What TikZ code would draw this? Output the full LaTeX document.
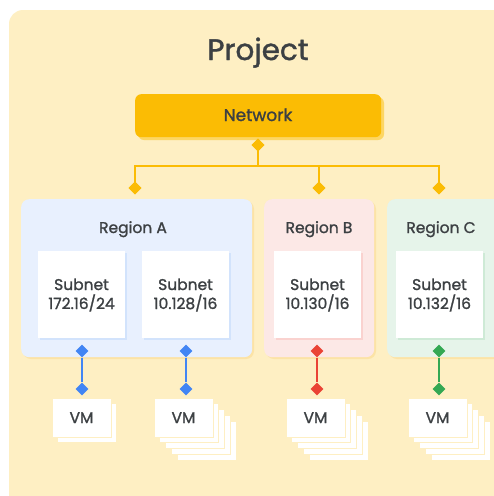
\documentclass[tikz,border=0pt]{standalone}
\usepackage{fontspec}
\setmainfont{Poppins}[FakeBold=1.3]
\usetikzlibrary{shapes.geometric}
\definecolor{bg}{HTML}{FEEFC3}
\definecolor{bgshadow}{HTML}{FCE3A6}
\definecolor{netfill}{HTML}{FBBC04}
\definecolor{netshadow}{HTML}{FDD663}
\definecolor{txt}{HTML}{3C4043}
\definecolor{gblue}{HTML}{4285F4}
\definecolor{gred}{HTML}{EA4335}
\definecolor{ggreen}{HTML}{34A853}
\definecolor{regA}{HTML}{E8F0FE}
\definecolor{regB}{HTML}{FCE8E6}
\definecolor{regC}{HTML}{E6F4EA}
\definecolor{shA}{HTML}{D2E3FC}
\definecolor{shB}{HTML}{FAD2CF}
\definecolor{shC}{HTML}{CEEAD6}
\begin{document}
\begin{tikzpicture}[x=1pt,y=-1pt,
  lbl/.style={text=txt, inner sep=0pt, anchor=base},
  netbox/.style={fill=netfill, rounded corners=6pt, anchor=north west, minimum width=246pt, minimum height=43pt, inner sep=0pt},
  regionbox/.style={rounded corners=8pt, anchor=north west, minimum height=158pt, inner sep=0pt},
  subnetbox/.style={fill=white, anchor=north west, minimum width=87pt, minimum height=87pt, inner sep=0pt},
  vmbox/.style={fill=white, draw=bg, line width=1pt, anchor=north west, minimum width=59pt, minimum height=39pt, inner sep=0pt},
  vmcopy/.style={fill=white, draw=bg, line width=1pt},
  dia/.style={diamond, fill=#1, minimum width=13pt, minimum height=13pt, inner sep=0pt},
  link/.style={draw=#1, line width=2.2pt},
  big/.style={font=\fontsize{29.5}{34}\selectfont},
  mid/.style={font=\fontsize{17}{19}\selectfont},
  small/.style={font=\fontsize{15.5}{19}\selectfont}
]
\useasboundingbox (0,0) rectangle (494,496);
% project background
\fill[bg, rounded corners=14pt] (9,10) rectangle (520,520);
\node[lbl, big] (project) at (258,60) {Project};

% network
\fill[netshadow, rounded corners=6pt] (138,97) rectangle (384,140);
\node[netbox] (network) at (135,94) {};
\node[lbl, mid] (netlabel) at (258,121) {Network};

% regions
\fill[bgshadow, rounded corners=8pt] (23,201) rectangle (254,359);
\fill[bgshadow, rounded corners=8pt] (266,201) rectangle (376,359);
\fill[bgshadow, rounded corners=8pt] (389,201) rectangle (520,359);
\node[regionbox, fill=regA, minimum width=231pt] (regionA) at (21,199) {};
\node[regionbox, fill=regB, minimum width=110pt] (regionB) at (264,199) {};
\node[regionbox, fill=regC, minimum width=130pt] (regionC) at (387,199) {};
\node[lbl, small] (labA) at (133,233) {Region A};
\node[lbl, small] (labB) at (319,233) {Region B};
\node[lbl, small] (labC) at (441,233) {Region C};

% subnets
\fill[shA] (40,253) rectangle (127,340);
\fill[shA] (144,253) rectangle (231,340);
\fill[shB] (276,253) rectangle (363,340);
\fill[shC] (398,253) rectangle (485,340);
\node[subnetbox] (sA1) at (38,251) {};
\node[subnetbox] (sA2) at (142,251) {};
\node[subnetbox] (sB) at (274,251) {};
\node[subnetbox] (sC) at (396,251) {};
\foreach \n/\x/\ip in {A1/81.5/172.16\slash 24, A2/185.5/10.128\slash 16, B/317.5/10.130\slash 16, C/439.5/10.132\slash 16}{
  \node[lbl, small] (st\n) at (\x,290) {Subnet};
  \node[lbl, small] (si\n) at (\x,309) {\ip};
}

% network connectors
\node[dia=netfill] (dn) at (258,145) {};
\coordinate (j) at (258,166);
\coordinate (jl) at (135,166);
\coordinate (jm) at (319,166);
\coordinate (jr) at (439,166);
\node[dia=netfill] (dA) at (135,188) {};
\node[dia=netfill] (dB) at (319,188) {};
\node[dia=netfill] (dC) at (439,188) {};
\draw[link=netfill, line width=2pt] (dn.center) -- (j);
\draw[link=netfill, line width=2pt] (dA.center) -- (jl) -- (jr) -- (dC.center);
\draw[link=netfill, line width=2pt] (jm) -- (dB.center);
\node[dia=netfill] at (dn) {};
\node[dia=netfill] at (dA) {};
\node[dia=netfill] at (dB) {};
\node[dia=netfill] at (dC) {};

% VM stacks
\foreach \k in {1}{\draw[vmcopy] ({52+5.8*\k},{398+5.8*\k}) rectangle ++(59,39);}
\node[vmbox] (vm1) at (52,398) {};
\foreach \k in {4,3,2,1}{\draw[vmcopy] ({154+5.8*\k},{398+5.8*\k}) rectangle ++(59,39);}
\node[vmbox] (vm2) at (154,398) {};
\foreach \k in {4,3,2,1}{\draw[vmcopy] ({286+5.8*\k},{398+5.8*\k}) rectangle ++(59,39);}
\node[vmbox] (vm3) at (286,398) {};
\foreach \k in {4,3,2,1}{\draw[vmcopy] ({408+5.8*\k},{398+5.8*\k}) rectangle ++(59,39);}
\node[vmbox] (vm4) at (408,398) {};
\node[lbl, small] (vml1) at (81.5,423) {VM};
\node[lbl, small] (vml2) at (183.5,423) {VM};
\node[lbl, small] (vml3) at (315.5,423) {VM};
\node[lbl, small] (vml4) at (437.5,423) {VM};

% subnet-VM connectors
\node[dia=gblue] (t1) at (82,351) {};
\node[dia=gblue] (b1) at (82,389) {};
\node[dia=gblue] (t2) at (186,351) {};
\node[dia=gblue] (b2) at (186,389) {};
\node[dia=gred] (t3) at (317,351) {};
\node[dia=gred] (b3) at (317,389) {};
\node[dia=ggreen] (t4) at (439,351) {};
\node[dia=ggreen] (b4) at (439,389) {};
\draw[link=gblue] (t1) -- (b1);
\draw[link=gblue] (t2) -- (b2);
\draw[link=gred] (t3) -- (b3);
\draw[link=ggreen] (t4) -- (b4);
\end{tikzpicture}
\end{document}
